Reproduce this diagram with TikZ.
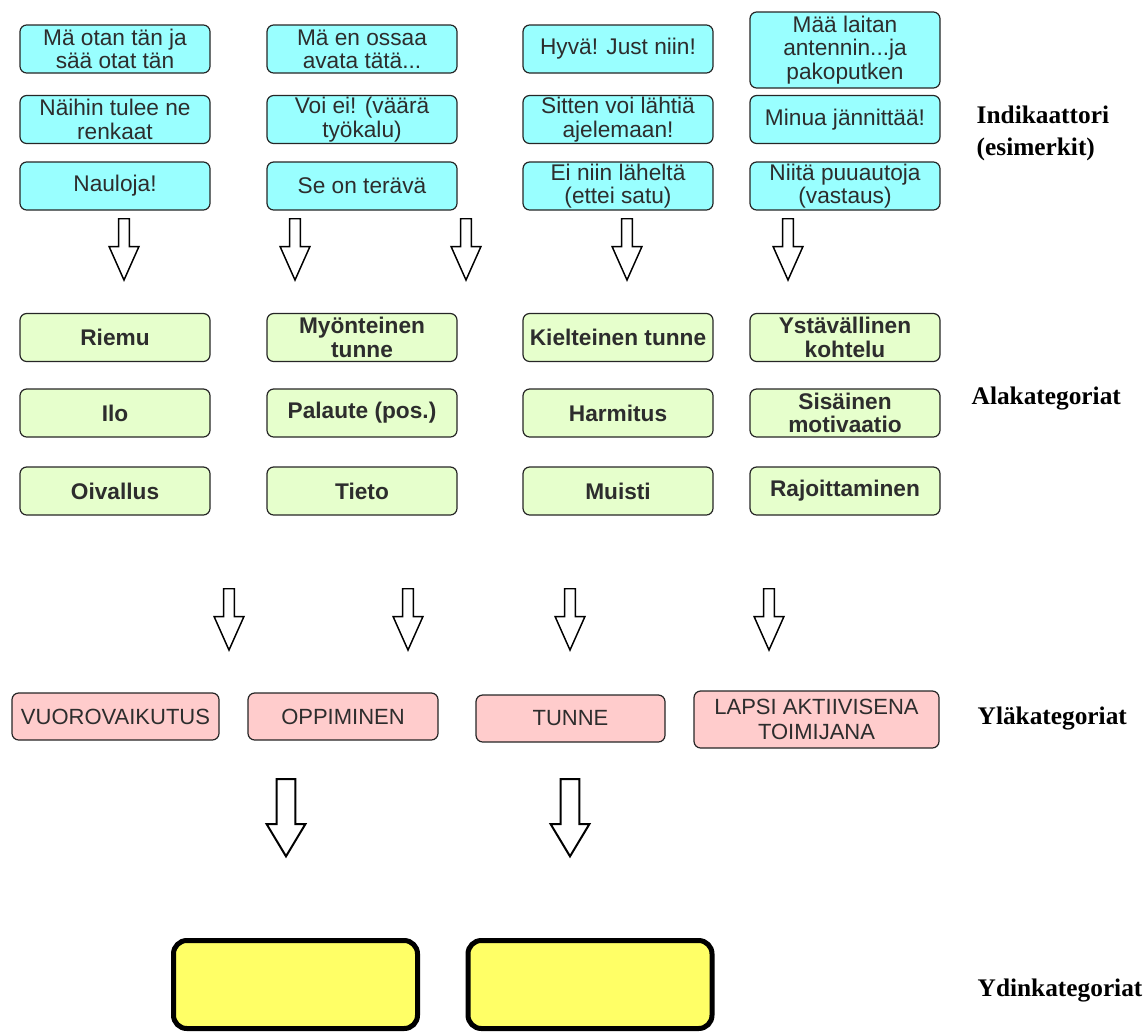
\documentclass[tikz,border=0pt]{standalone}
\usepackage{fontspec}
\setmainfont{Liberation Serif}
\setsansfont{Liberation Sans}
\definecolor{IndCyan}{RGB}{153,255,255}
\definecolor{AlaGreen}{RGB}{230,255,204}
\definecolor{YlaPink}{RGB}{255,204,204}
\definecolor{YdinYellow}{RGB}{255,255,102}
\definecolor{BoxText}{RGB}{45,45,45}
\usetikzlibrary{shapes.arrows,shadows}

\begin{document}
\begin{tikzpicture}[x=0.75pt,y=-0.75pt,
  catbox/.style={draw=black!85,line width=0.9pt,rounded corners=5pt,align=center,inner sep=0pt,text=BoxText,font=\sffamily\fontsize{17}{17.5}\selectfont},
  indbox/.style={catbox,fill=IndCyan,minimum width=142.5pt,minimum height=36pt},
  alabox/.style={catbox,fill=AlaGreen,minimum width=142.5pt,minimum height=36pt,font=\sffamily\bfseries\fontsize{17}{17.5}\selectfont},
  ylabox/.style={catbox,fill=YlaPink,minimum height=35.25pt,font=\sffamily\fontsize{16.5}{19}\selectfont},
  ydinbox/.style={draw=black,line width=3.75pt,fill=YdinYellow,rounded corners=10pt,minimum width=183pt,minimum height=66pt,drop shadow={shadow xshift=1.5pt,shadow yshift=-1.5pt,fill=black!25}},
  levellabel/.style={anchor=west,align=left,font=\bfseries\fontsize{19}{24}\selectfont},
  downarrow/.style={single arrow,draw=black,fill=white,line width=1.1pt,shape border rotate=270,anchor=tail,inner sep=3.5pt,minimum height=46pt,minimum width=17pt,single arrow tip angle=48},
  bigarrow/.style={downarrow,line width=1.5pt,inner sep=6pt,minimum height=58pt,minimum width=29pt,single arrow tip angle=62}]
\useasboundingbox (0,0) rectangle (1148,1035);
\node[indbox] (otan) at (115,49) {Mä otan tän ja\\sää otat tän};
\node[indbox] (renkaat) at (115,119.5) {Näihin tulee ne\\renkaat};
\node[indbox] (nauloja) at (115,186) {Nauloja!};
\node[indbox] (avata) at (362,49) {Mä en ossaa\\avata tätä...};
\node[indbox] (tyokalu) at (362,119.5) {Voi ei! (väärä\\työkalu)};
\node[indbox] (terava) at (362,186) {Se on terävä};
\node[indbox] (hyva) at (618,49) {Hyvä! Just niin!};
\node[indbox] (ajelemaan) at (618,119.5) {Sitten voi lähtiä\\ajelemaan!};
\node[indbox] (lahelta) at (618,186) {Ei niin läheltä\\(ettei satu)};
\node[indbox,minimum height=57pt] (antenni) at (845,50) {Mää laitan\\antennin...ja\\pakoputken};
\node[indbox] (jannittaa) at (845,119.5) {Minua jännittää!};
\node[indbox] (puuautoja) at (845,186) {Niitä puuautoja\\(vastaus)};
\node[levellabel] (indik) at (972,133) {Indikaattori\\(esimerkit)};

\node[downarrow] (a1) at (124,218) {};
\node[downarrow] (a2) at (295,218) {};
\node[downarrow] (a3) at (466,218) {};
\node[downarrow] (a4) at (627,218) {};
\node[downarrow] (a5) at (788,218) {};

\node[alabox] (riemu) at (115,337.5) {Riemu};
\node[alabox] (ilo) at (115,413) {Ilo};
\node[alabox] (oivallus) at (115,491) {Oivallus};
\node[alabox] (myonteinen) at (362,337.5) {Myönteinen\\tunne};
\node[alabox] (palaute) at (362,413) {Palaute (pos.)};
\node[alabox] (tieto) at (362,491) {Tieto};
\node[alabox] (kielteinen) at (618,337.5) {Kielteinen tunne};
\node[alabox] (harmitus) at (618,413) {Harmitus};
\node[alabox] (muisti) at (618,491) {Muisti};
\node[alabox] (ystavallinen) at (845,337.5) {Ystävällinen\\kohtelu};
\node[alabox] (sisainen) at (845,413) {Sisäinen\\motivaatio};
\node[alabox] (rajoittaminen) at (845,491) {Rajoittaminen};
\node[levellabel] (ala) at (967,398) {Alakategoriat};

\node[downarrow] (b1) at (229,588) {};
\node[downarrow] (b2) at (408,588) {};
\node[downarrow] (b3) at (570,588) {};
\node[downarrow] (b4) at (769,588) {};

\node[ylabox,minimum width=155.25pt] (vuoro) at (115.5,716.5) {VUOROVAIKUTUS};
\node[ylabox,minimum width=142.5pt] (oppiminen) at (343,716.5) {OPPIMINEN};
\node[ylabox,minimum width=141.75pt] (tunne) at (570.5,718.5) {TUNNE};
\node[ylabox,minimum width=183.75pt,minimum height=42.75pt] (lapsi) at (816.5,719.5) {LAPSI AKTIIVISENA\\TOIMIJANA};
\node[levellabel] (yla) at (973,718) {Yläkategoriat};

\node[bigarrow] (c1) at (286,778) {};
\node[bigarrow] (c2) at (570,778) {};

\node[ydinbox] (ydinA) at (295.5,984.5) {};
\node[ydinbox] (ydinB) at (590,984.5) {};
\node[levellabel] (ydin) at (973,990) {Ydinkategoriat};
\end{tikzpicture}
\end{document}
